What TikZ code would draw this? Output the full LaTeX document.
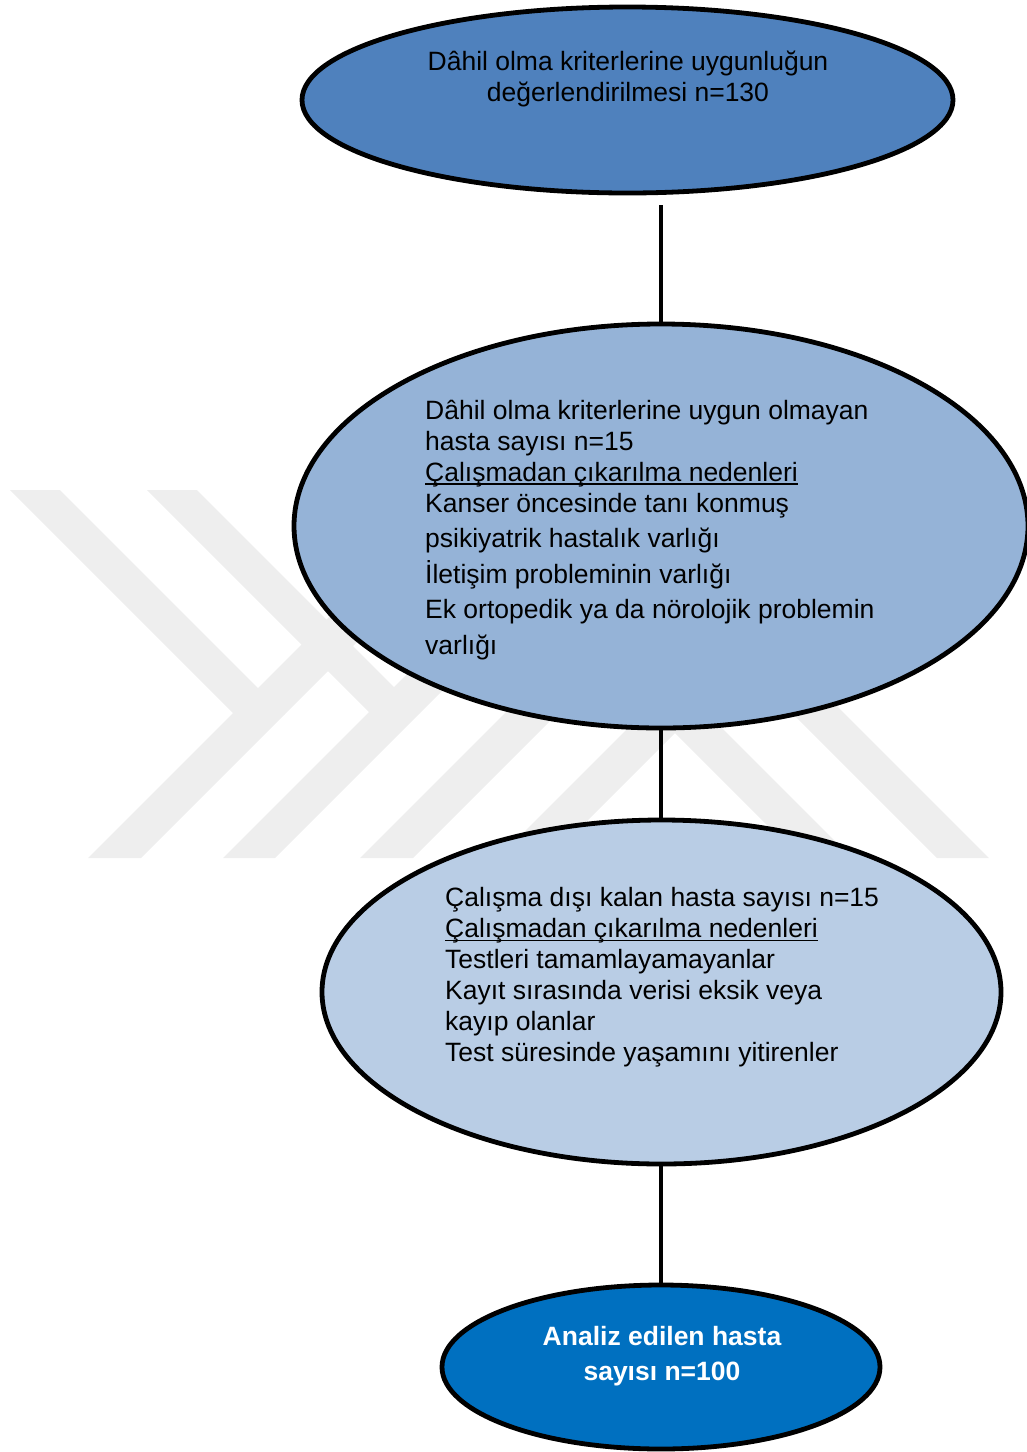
\documentclass[tikz,border=0pt]{standalone}
\usepackage{fontspec}
\setmainfont{Liberation Sans}
\usetikzlibrary{shapes.geometric}
\definecolor{eone}{HTML}{4F81BD}
\definecolor{etwo}{HTML}{95B3D7}
\definecolor{ethree}{HTML}{B9CDE5}
\definecolor{efour}{HTML}{0070C0}
\definecolor{wm}{HTML}{EEEEEE}
\newcommand\bodysize{\fontsize{26.5pt}{31pt}\selectfont}
\newcommand\undl[1]{\setbox0\hbox{#1}\rlap{\rule[-4pt]{\wd0}{1.8pt}}\box0}
\tikzset{
  ell/.style={ellipse, draw=black, line width=4.8pt, inner sep=0pt},
  conn/.style={draw=black, line width=4.8pt},
  txt/.style={inner sep=0pt, font=\bodysize, text=black},
  wmark/.style={fill=wm, draw=none}
}
\begin{document}
\begin{tikzpicture}[x=1pt,y=-1pt]
\useasboundingbox (0,0) rectangle (1027,1452);
% watermark
\fill[wmark] (10,490) -- (60,490) -- (284.5,714.5) -- (233,713) -- cycle;
\fill[wmark] (147,490) -- (197,490) -- (420,713) -- (369,712) -- cycle;
\fill[wmark] (88,858) -- (141,858) -- (509,490) -- (456,490) -- cycle;
\fill[wmark] (223,858) -- (275,858) -- (643,490) -- (591,490) -- cycle;
\fill[wmark] (360,858) -- (674.5,543.5) -- (989,858) -- (937,858) -- (675,596) -- (413,858) -- cycle;
\fill[wmark] (498,858) -- (675,681) -- (852,858) -- (800,858) -- (675,733) -- (550,858) -- cycle;
% ellipses
\node[ell, fill=eone, minimum width=651pt, minimum height=186pt] (e1) at (627.5,100) {};
\node[ell, fill=etwo, minimum width=734pt, minimum height=404pt] (e2) at (661,526) {};
\node[ell, fill=ethree, minimum width=679pt, minimum height=344pt] (e3) at (661.5,992) {};
\node[ell, fill=efour, minimum width=438pt, minimum height=164pt] (e4) at (661,1367) {};
% texts
\node[txt, align=center] (t1) at (628,78.5) {Dâhil olma kriterlerine uygunluğun\\değerlendirilmesi n=130};
\node[txt, align=left, anchor=north west] (t2) at (425,399.5) {Dâhil olma kriterlerine uygun olmayan\\hasta sayısı n=15\\\undl{Çalışmadan çıkarılma nedenleri}\\Kanser öncesinde tanı konmuş\\[4.5pt]psikiyatrik hastalık varlığı\\[4.5pt]İletişim probleminin varlığı\\[4.5pt]Ek ortopedik ya da nörolojik problemin\\[4.5pt]varlığı};
\node[txt, align=left, anchor=north west] (t3) at (445,887) {Çalışma dışı kalan hasta sayısı n=15\\\undl{Çalışmadan çıkarılma nedenleri}\\Testleri tamamlayamayanlar\\Kayıt sırasında verisi eksik veya\\kayıp olanlar\\Test süresinde yaşamını yitirenler};
\node[txt, align=center, font=\fontsize{26.5pt}{35pt}\selectfont\bfseries, text=white] (t4) at (662,1356.5) {Analiz edilen hasta\\sayısı n=100};
% connectors
\draw[conn, shorten <=10pt] (e1.south -| e2.north) -- (e2.north);
\draw[conn] (e2.south) -- (e2.south |- e3.north);
\draw[conn] (e3.south -| e2.south) -- (e4.north -| e2.south);
\end{tikzpicture}
\end{document}
